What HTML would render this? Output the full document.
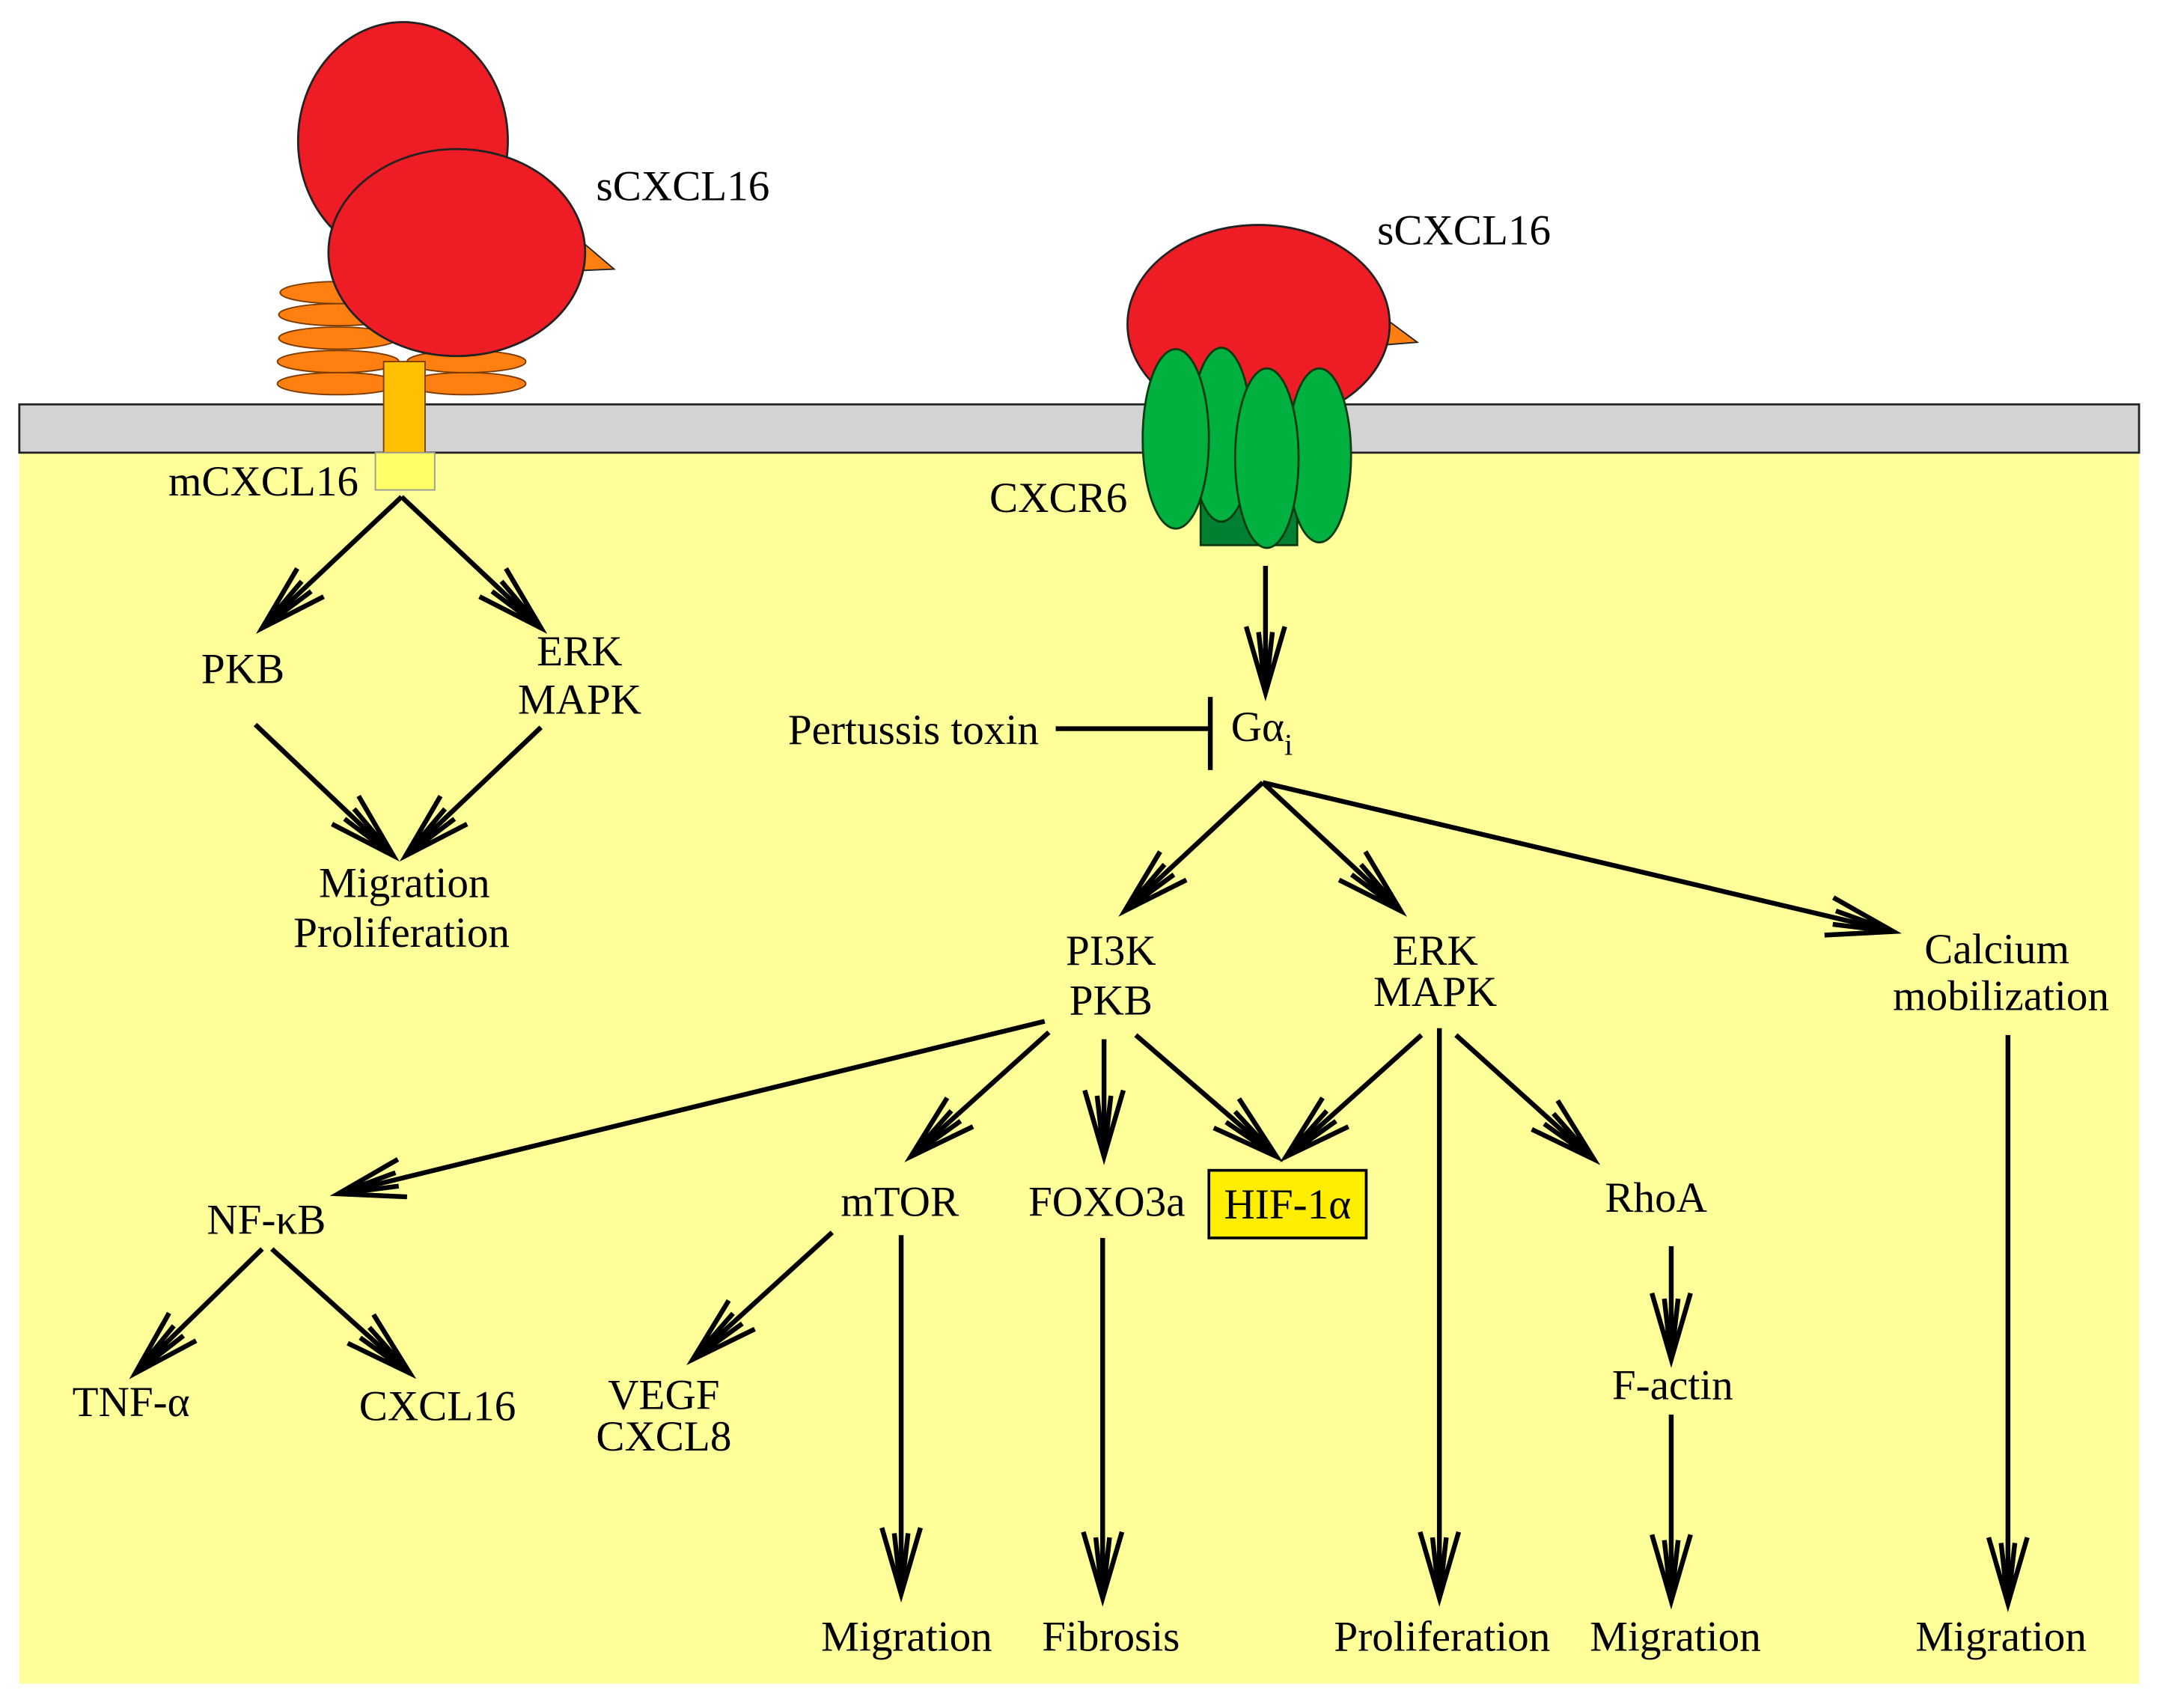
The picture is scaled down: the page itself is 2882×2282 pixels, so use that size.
<!DOCTYPE html>
<html><head><meta charset="utf-8"><style>html,body{margin:0;padding:0;background:#fff}svg{display:block}</style></head>
<body>
<svg width="2882" height="2282" viewBox="0 0 1563 1237.6" xmlns="http://www.w3.org/2000/svg" font-family="'Liberation Serif', serif" font-size="31" fill="#000">
<defs>
<marker id="a" markerUnits="userSpaceOnUse" markerWidth="70" markerHeight="50" viewBox="-60 -25 70 50" refX="0" refY="0" orient="auto" overflow="visible">
<path d="M -48 -14 L 0 0 L -48 14 M -44 -5 L 0 0 L -44 5" stroke="#000" stroke-width="3.5" fill="none"/>
</marker>
</defs>
<rect x="0" y="0" width="1563" height="1238" fill="#fff"/>
<rect x="14" y="328" width="1536" height="892" fill="#ffff99"/>
<rect x="14" y="293" width="1536" height="35" fill="#d3d3d3" stroke="#222" stroke-width="1.5"/>

<g stroke="#7a3a00" stroke-width="1">
<ellipse cx="245" cy="212" rx="42" ry="8" fill="#ff8010"/>
<ellipse cx="245" cy="228" rx="43" ry="8" fill="#ff8010"/>
<ellipse cx="245" cy="245" rx="43" ry="8" fill="#ff8010"/>
<ellipse cx="245" cy="262" rx="44" ry="8" fill="#ff8010"/>
<ellipse cx="245" cy="278" rx="44" ry="8" fill="#ff8010"/>
<ellipse cx="338" cy="262" rx="43" ry="8" fill="#ff8010"/>
<ellipse cx="338" cy="278" rx="43" ry="8" fill="#ff8010"/>
</g>
<rect x="278" y="262" width="30" height="66" fill="#ffc000" stroke="#7a3a00"/>
<rect x="272" y="328" width="43" height="27" fill="#ffff66" stroke="#999"/>
<ellipse cx="292" cy="102" rx="76" ry="86" fill="#ee1c24" stroke="#222" stroke-width="1.5"/>
<polygon points="418,172 445,195 422,196" fill="#ff8010" stroke="#222"/>
<ellipse cx="331" cy="183" rx="93" ry="75" fill="#ee1c24" stroke="#222" stroke-width="1.5"/>
<text x="432" y="145">sCXCL16</text>
<text x="122" y="359">mCXCL16</text>

<polygon points="1000,228 1027,248 1002,250" fill="#ff8010" stroke="#222"/>
<ellipse cx="912" cy="235" rx="95" ry="72" fill="#ee1c24" stroke="#222" stroke-width="1.5"/>
<g fill="#00b140" stroke="#0a3a10" stroke-width="1.5">
<rect x="870" y="350" width="70" height="45" fill="#008030"/>
<ellipse cx="885" cy="315" rx="22" ry="63"/>
<ellipse cx="852" cy="318" rx="24" ry="65"/>
<ellipse cx="956" cy="330" rx="23" ry="63"/>
<ellipse cx="918" cy="332" rx="23" ry="65"/>
</g>
<text x="998" y="177">sCXCL16</text>
<text x="717" y="371">CXCR6</text>

<g stroke="#000" stroke-width="3.5" fill="none" marker-end="url(#a)">
<line x1="291" y1="360" x2="190" y2="455"/>
<line x1="291" y1="360" x2="392" y2="455"/>
<line x1="185" y1="525" x2="285" y2="620"/>
<line x1="392" y1="527" x2="294" y2="620"/>
<line x1="917" y1="410" x2="917" y2="502"/>
<line x1="915" y1="567" x2="815" y2="660"/>
<line x1="915" y1="567" x2="1015" y2="660"/>
<line x1="915" y1="567" x2="1372" y2="675"/>
<line x1="757" y1="740" x2="245" y2="865"/>
<line x1="760" y1="748" x2="660" y2="838"/>
<line x1="800" y1="753" x2="800" y2="838"/>
<line x1="823" y1="750" x2="925" y2="838"/>
<line x1="1030" y1="750" x2="932" y2="838"/>
<line x1="1043" y1="745" x2="1043" y2="1158"/>
<line x1="1055" y1="750" x2="1155" y2="840"/>
<line x1="1455" y1="750" x2="1455" y2="1162"/>
<line x1="190" y1="905" x2="98" y2="995"/>
<line x1="197" y1="905" x2="297" y2="995"/>
<line x1="603" y1="893" x2="502" y2="985"/>
<line x1="653" y1="895" x2="653" y2="1155"/>
<line x1="799" y1="897" x2="799" y2="1158"/>
<line x1="1211" y1="903" x2="1211" y2="985"/>
<line x1="1211" y1="1025" x2="1211" y2="1160"/>
</g>
<g stroke="#000" stroke-width="3.5">
<line x1="765" y1="528" x2="877" y2="528"/>
<line x1="877" y1="505" x2="877" y2="558"/>
</g>
<text x="571" y="539">Pertussis toxin</text>
<text x="892" y="537">Gα<tspan font-size="22" dy="10">i</tspan></text>

<g text-anchor="middle">
<text x="176" y="495">PKB</text>
<text x="420" y="482">ERK</text>
<text x="420" y="517">MAPK</text>
<text x="293" y="650">Migration</text>
<text x="291" y="686">Proliferation</text>
<text x="805" y="699">PI3K</text>
<text x="805" y="735">PKB</text>
<text x="1040" y="699">ERK</text>
<text x="1040" y="729">MAPK</text>
<text x="1447" y="698">Calcium</text>
<text x="1450" y="732">mobilization</text>
<text x="193" y="894">NF-κB</text>
<text x="95" y="1026">TNF-α</text>
<text x="317" y="1029">CXCL16</text>
<text x="652" y="881">mTOR</text>
<text x="481" y="1021">VEGF</text>
<text x="481" y="1051">CXCL8</text>
<text x="802" y="881">FOXO3a</text>
<text x="1200" y="878">RhoA</text>
<text x="1212" y="1014">F-actin</text>
<text x="657" y="1196">Migration</text>
<text x="805" y="1196">Fibrosis</text>
<text x="1045" y="1196">Proliferation</text>
<text x="1214" y="1196">Migration</text>
<text x="1450" y="1196">Migration</text>
</g>
<rect x="876" y="848" width="114" height="49" fill="#ffee00" stroke="#000" stroke-width="2"/>
<text x="933" y="883" text-anchor="middle">HIF-1α</text>
</svg>
</body></html>
